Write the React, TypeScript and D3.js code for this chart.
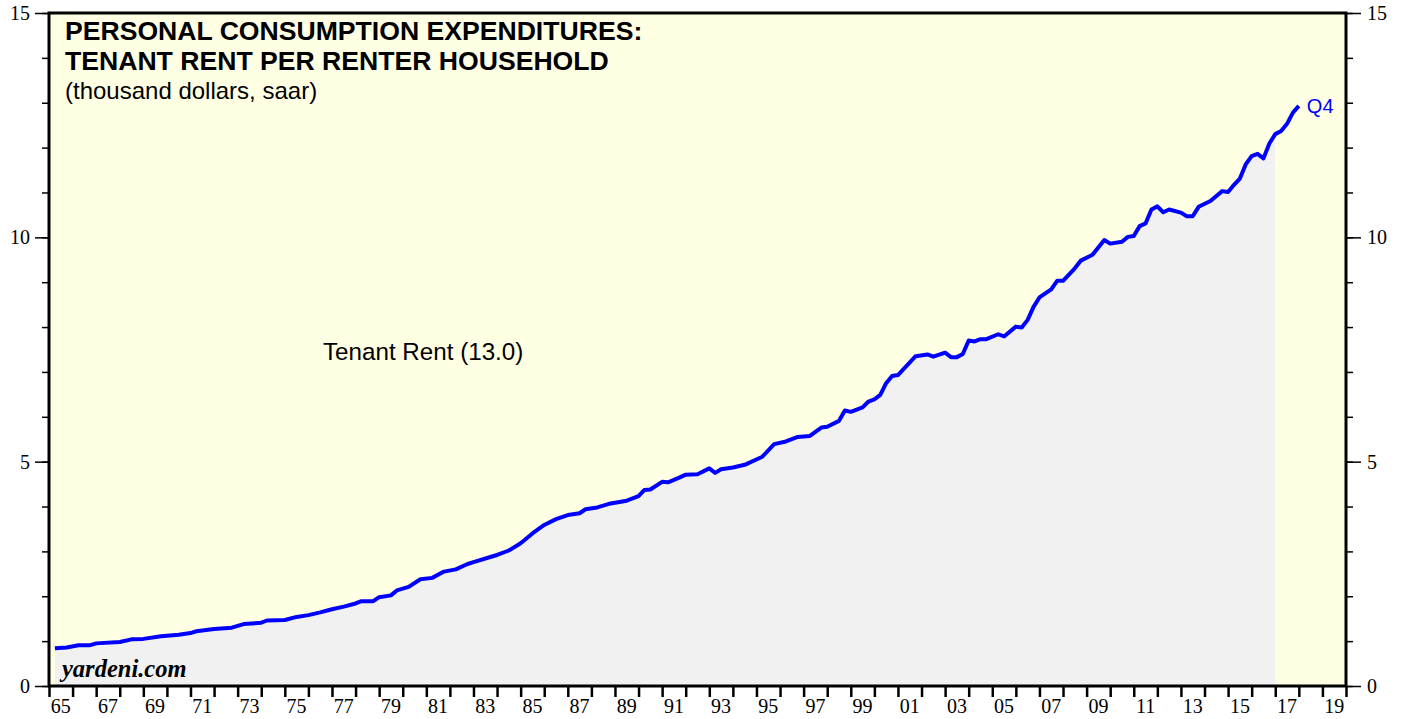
import React, { useRef, useEffect } from 'react';
import * as d3 from 'd3';

// quarter-end dates (decimal years) and tenant rent per renter household, thousand $ saar
const quarterEnds = [
  1965.25, 1965.75, 1966.25, 1966.75, 1967.0, 1968.0, 1968.5, 1969.0, 1969.75, 1970.5,
  1971.0, 1971.25, 1972.0, 1972.75, 1973.25, 1974.0, 1974.25, 1975.0, 1975.5, 1976.0,
  1976.5, 1977.0, 1977.5, 1978.0, 1978.25, 1978.75, 1979.0, 1979.5, 1979.75, 1980.25,
  1980.75, 1981.25, 1981.75, 1982.25, 1982.75, 1983.0, 1983.75, 1984.0, 1984.5, 1985.0,
  1985.5, 1986.0, 1986.5, 1987.0, 1987.5, 1987.75, 1988.25, 1988.75, 1989.5, 1990.0,
  1990.25, 1990.5, 1991.0, 1991.25, 1991.75, 1992.0, 1992.5, 1993.0, 1993.25, 1993.5,
  1994.0, 1994.5, 1995.25, 1995.75, 1996.25, 1996.75, 1997.25, 1997.75, 1998.0, 1998.5,
  1998.75, 1999.0, 1999.5, 1999.75, 2000.0, 2000.25, 2000.5, 2000.75, 2001.0, 2001.75,
  2002.25, 2002.5, 2003.0, 2003.25, 2003.5, 2003.75, 2004.0, 2004.25, 2004.5, 2004.75,
  2005.25, 2005.5, 2006.0, 2006.25, 2006.5, 2006.75, 2007.0, 2007.5, 2007.75, 2008.0,
  2008.5, 2008.75, 2009.25, 2009.75, 2010.0, 2010.5, 2010.75, 2011.0, 2011.25, 2011.5,
  2011.75, 2012.0, 2012.25, 2012.5, 2013.0, 2013.25, 2013.5, 2013.75, 2014.25, 2014.75,
  2015.0, 2015.25, 2015.5, 2015.75, 2016.0, 2016.25, 2016.5, 2016.75, 2017.0, 2017.25,
  2017.5, 2017.75, 2018.0,
];
const tenantRent = [
  0.84, 0.86, 0.91, 0.91, 0.95, 0.98, 1.04, 1.05, 1.11, 1.14,
  1.18, 1.22, 1.27, 1.3, 1.38, 1.41, 1.46, 1.47, 1.54, 1.58,
  1.64, 1.71, 1.77, 1.84, 1.89, 1.89, 1.98, 2.02, 2.13, 2.21,
  2.38, 2.41, 2.55, 2.6, 2.72, 2.76, 2.88, 2.92, 3.02, 3.18,
  3.4, 3.59, 3.72, 3.81, 3.85, 3.94, 3.98, 4.06, 4.13, 4.23,
  4.37, 4.38, 4.55, 4.54, 4.65, 4.71, 4.72, 4.85, 4.75, 4.83,
  4.87, 4.93, 5.11, 5.39, 5.45, 5.55, 5.57, 5.76, 5.78, 5.91,
  6.14, 6.11, 6.21, 6.34, 6.39, 6.49, 6.75, 6.91, 6.93, 7.35,
  7.39, 7.34, 7.43, 7.33, 7.33, 7.4, 7.7, 7.68, 7.73, 7.73,
  7.84, 7.79, 8.01, 7.99, 8.16, 8.45, 8.66, 8.84, 9.03, 9.03,
  9.31, 9.48, 9.61, 9.94, 9.86, 9.9, 10.01, 10.03, 10.25, 10.31,
  10.62, 10.69, 10.56, 10.62, 10.55, 10.47, 10.47, 10.68, 10.81, 11.03,
  11.01, 11.17, 11.31, 11.63, 11.81, 11.86, 11.76, 12.09, 12.3, 12.37,
  12.53, 12.78, 12.93,
];
const yearLabels = ['65', '67', '69', '71', '73', '75', '77', '79', '81', '83', '85', '87', '89',
  '91', '93', '95', '97', '99', '01', '03', '05', '07', '09', '11', '13', '15', '17', '19'];
const yMajor = [0, 5, 10, 15];

const W = 1405;
const H = 719;
const left = 49;
const right = 1346;
const top = 13;
const bottom = 686;

export default function App() {
  const svgRef = useRef<SVGSVGElement>(null);

  useEffect(() => {
    const svg = d3.select(svgRef.current);
    svg.selectAll('*').remove();

    const x = d3.scaleLinear().domain([1965, 2020]).range([left, right]);
    const y = d3.scaleLinear().domain([0, 15]).range([bottom, top]);
    const data = quarterEnds.map((t, i) => ({ t, v: tenantRent[i] }));

    // plot background
    svg.append('rect')
      .attr('x', left).attr('y', top)
      .attr('width', right - left).attr('height', bottom - top)
      .attr('fill', '#ffffe4');

    // grey shade under the line, up to 2016 Q4
    svg.append('clipPath').attr('id', 'shadeClip')
      .append('rect')
      .attr('x', left).attr('y', top)
      .attr('width', x(2017) - left).attr('height', bottom - top);

    const area = d3.area<{ t: number; v: number }>()
      .x(d => x(d.t)).y0(bottom).y1(d => y(d.v));
    svg.append('path')
      .datum(data)
      .attr('d', area)
      .attr('fill', '#f1f1f1')
      .attr('clip-path', 'url(#shadeClip)');

    const line = d3.line<{ t: number; v: number }>()
      .x(d => x(d.t)).y(d => y(d.v));
    svg.append('path')
      .datum(data)
      .attr('d', line)
      .attr('fill', 'none')
      .attr('stroke', '#0000ff')
      .attr('stroke-width', 4)
      .attr('stroke-linejoin', 'round');

    // left axis
    const styleAxis = (g: any) => {
      g.select('.domain').remove();
      g.selectAll('line').attr('stroke', '#000').attr('stroke-width', 1.5);
      g.selectAll('text')
        .attr('fill', '#000')
        .attr('font-family', '"Liberation Serif", "Times New Roman", serif')
        .attr('font-size', 20);
    };
    svg.append('g')
      .attr('transform', `translate(${left},0)`)
      .call(d3.axisLeft(y).tickValues(d3.range(0, 16)).tickSize(7).tickFormat(() => ''))
      .call(styleAxis);
    svg.append('g')
      .attr('transform', `translate(${left},0)`)
      .call(d3.axisLeft(y).tickValues(yMajor).tickSize(14).tickPadding(5).tickFormat(d3.format('d')))
      .call(styleAxis);

    // right axis
    svg.append('g')
      .attr('transform', `translate(${right},0)`)
      .call(d3.axisRight(y).tickValues(d3.range(0, 16)).tickSize(7).tickFormat(() => ''))
      .call(styleAxis);
    svg.append('g')
      .attr('transform', `translate(${right},0)`)
      .call(d3.axisRight(y).tickValues(yMajor).tickSize(15).tickPadding(6).tickFormat(d3.format('d')))
      .call(styleAxis);

    // bottom axis: a tick at each year, labels centred on odd years
    svg.append('g')
      .attr('transform', `translate(0,${bottom})`)
      .call(d3.axisBottom(x).tickValues(d3.range(1965, 2021)).tickSize(11).tickFormat(() => ''))
      .call(styleAxis)
      .selectAll('line').attr('stroke-width', 2.5);

    svg.append('g')
      .selectAll('text')
      .data(yearLabels)
      .join('text')
      .attr('x', (d, i) => x(1965 + 2 * i + 0.5))
      .attr('y', 713)
      .attr('text-anchor', 'middle')
      .attr('font-family', '"Liberation Serif", "Times New Roman", serif')
      .attr('font-size', 20)
      .attr('fill', '#000')
      .text(d => d);

    // frame
    svg.append('rect')
      .attr('x', left).attr('y', top)
      .attr('width', right - left).attr('height', bottom - top)
      .attr('fill', 'none')
      .attr('stroke', '#000')
      .attr('stroke-width', 3);

    // titles and notes
    const sans = '"Liberation Sans", Arial, Helvetica, sans-serif';
    svg.append('text')
      .attr('x', 65).attr('y', 40)
      .attr('font-family', sans).attr('font-size', 26.6).attr('font-weight', 'bold')
      .text('PERSONAL CONSUMPTION EXPENDITURES:');
    svg.append('text')
      .attr('x', 65).attr('y', 70)
      .attr('font-family', sans).attr('font-size', 26.6).attr('font-weight', 'bold')
      .text('TENANT RENT PER RENTER HOUSEHOLD');
    svg.append('text')
      .attr('x', 65).attr('y', 99)
      .attr('font-family', sans).attr('font-size', 24)
      .text('(thousand dollars, saar)');
    svg.append('text')
      .attr('x', 323).attr('y', 360)
      .attr('font-family', sans).attr('font-size', 24.2)
      .text('Tenant Rent (13.0)');

    const last = data[data.length - 1];
    svg.append('text')
      .attr('x', x(last.t) + 8).attr('y', y(last.v) + 7)
      .attr('font-family', sans).attr('font-size', 20)
      .attr('fill', '#0000ff')
      .text('Q4');

    svg.append('text')
      .attr('x', 62).attr('y', 677)
      .attr('font-family', '"Liberation Serif", "Times New Roman", serif')
      .attr('font-size', 24.5).attr('font-weight', 'bold').attr('font-style', 'italic')
      .text('yardeni.com');
  }, []);

  return (
    <svg
      ref={svgRef}
      width={W}
      height={H}
      style={{ position: 'absolute', left: 0, top: 0, background: '#fff' }}
    />
  );
}
